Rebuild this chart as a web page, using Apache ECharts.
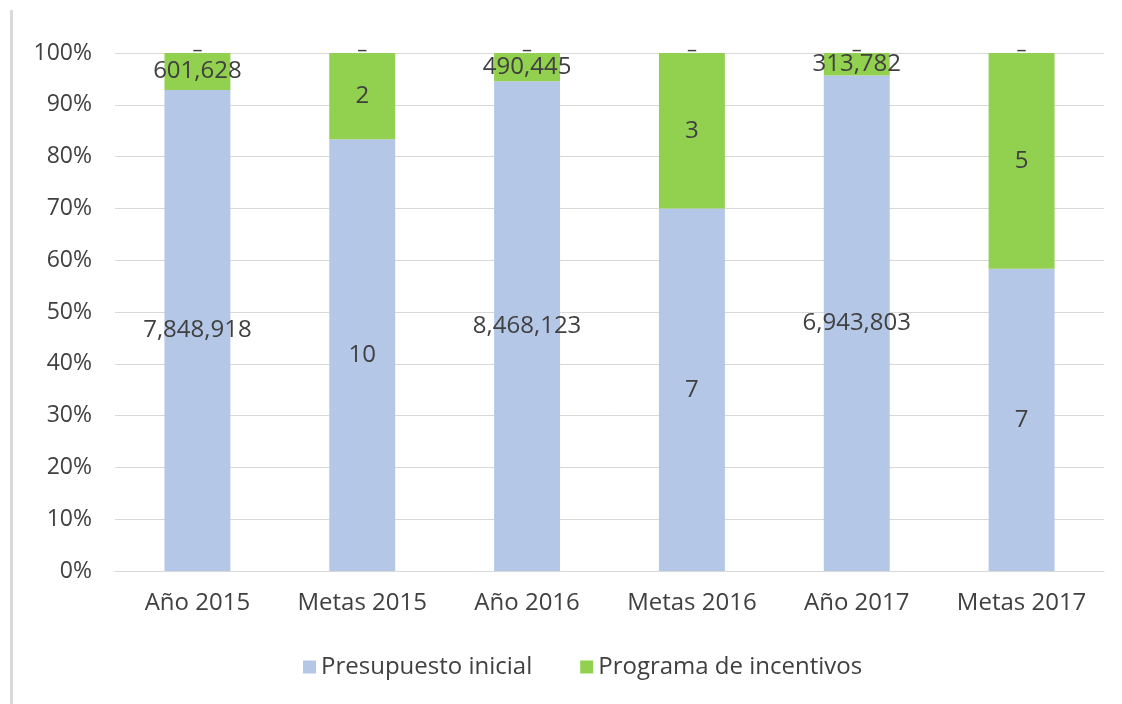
<!DOCTYPE html>
<html>
<head>
<meta charset="utf-8">
<script src="https://cdn.jsdelivr.net/npm/echarts@6/dist/echarts.min.js"></script>
<style>
  html, body { margin: 0; padding: 0; background: #fff; }
  #chart { width: 1122px; height: 704px; }
</style>
</head>
<body>
<div id="chart"></div>
<script>
// datos
var categorias = ['Año 2015', 'Metas 2015', 'Año 2016', 'Metas 2016', 'Año 2017', 'Metas 2017'];
var presupuesto = [7848918, 10, 8468123, 7, 6943803, 7];
var incentivos = [601628, 2, 490445, 3, 313782, 5];
var ticksY = ['0%', '10%', '20%', '30%', '40%', '50%', '60%', '70%', '80%', '90%', '100%'];

(function () {
  var myChart = echarts.init(document.getElementById('chart'));
  var fmt = function (n) {
    return String(n).replace(/\B(?=(\d{3})+(?!\d))/g, ',');
  };
  // pasar a porcentaje (100% apilado)
  var pctA = [], pctB = [], cero = [];
  for (var i = 0; i < categorias.length; i++) {
    var tot = presupuesto[i] + incentivos[i];
    pctA.push({ value: presupuesto[i] / tot * 100, raw: presupuesto[i] });
    pctB.push({ value: incentivos[i] / tot * 100, raw: incentivos[i] });
    cero.push(0);
  }
  var labelStyle = {
    show: true,
    position: 'inside',
    color: '#404040',
    fontSize: 24,
    fontFamily: 'Open Sans',
    formatter: function (p) { return fmt(p.data.raw); }
  };
  var option = {
    animation: false,
    textStyle: { fontFamily: 'Open Sans' },
    grid: { left: 115, right: 18, top: 53, bottom: 133 },
    legend: {
      data: ['Presupuesto inicial', 'Programa de incentivos'],
      bottom: 20,
      left: 298,
      itemWidth: 13,
      itemHeight: 13,
      itemGap: 48,
      icon: 'rect',
      textStyle: { color: '#404040', fontSize: 24 }
    },
    graphic: [
      {
        type: 'rect',
        shape: { x: 10, y: 10, width: 3, height: 700 },
        style: { fill: '#d9d9d9' }
      }
    ],
    xAxis: {
      type: 'category',
      data: categorias,
      axisTick: { show: false },
      axisLine: { lineStyle: { color: '#d9d9d9' } },
      axisLabel: { color: '#404040', fontSize: 24, margin: 20, interval: 0 }
    },
    yAxis: {
      type: 'value',
      min: 0,
      max: 100,
      interval: 10,
      axisLabel: {
        color: '#404040',
        fontSize: 23,
        margin: 23,
        formatter: function (v) { return ticksY[Math.round(v / 10)]; }
      },
      axisLine: { show: false },
      splitLine: { lineStyle: { color: '#d9d9d9' } }
    },
    series: [
      {
        name: 'Presupuesto inicial',
        type: 'bar',
        stack: 'total',
        barWidth: '40%',
        data: pctA,
        itemStyle: { color: '#b4c7e7' },
        label: labelStyle
      },
      {
        name: 'Programa de incentivos',
        type: 'bar',
        stack: 'total',
        data: pctB,
        itemStyle: { color: '#92d050' },
        label: labelStyle
      },
      {
        name: 'vacio',
        type: 'bar',
        stack: 'total',
        data: cero,
        itemStyle: { color: 'transparent' },
        label: {
          show: true,
          position: 'top',
          distance: -7,
          color: '#404040',
          fontSize: 20,
          formatter: '–'
        }
      }
    ]
  };
  myChart.setOption(option);
  window.addEventListener('resize', function () {
    myChart.resize();
  });
})();
</script>
</body>
</html>
